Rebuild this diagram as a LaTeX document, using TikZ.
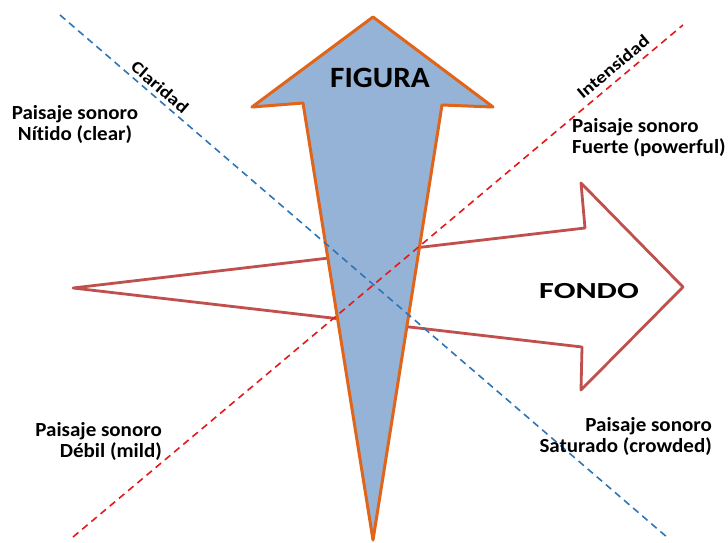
\documentclass[tikz,border=0pt]{standalone}
\usepackage{fontspec}
\setmainfont{Carlito}[Ligatures=NoCommon]
% Widened faces for the different text roles
\newfontfamily\quadfont{Carlito}[FakeStretch=1.05, Ligatures=NoCommon]
\newfontfamily\axisfont{Carlito}[FakeStretch=1.19, Ligatures=NoCommon]
\newfontfamily\figfont{Carlito}[FakeStretch=1.06, Ligatures=NoCommon]
\newfontfamily\fondofont{Carlito}[FakeStretch=1.4, Ligatures=NoCommon]
\definecolor{figfill}{HTML}{95B3D7}
\definecolor{figline}{HTML}{E0641A}
\definecolor{fondoline}{HTML}{C0504D}
\definecolor{clarline}{HTML}{2E75B6}
\definecolor{intline}{HTML}{E31A1C}
\tikzset{
  quadlabel/.style={font=\quadfont\bfseries\fontsize{20}{21}\selectfont, inner sep=0pt},
  axislabel/.style={font=\axisfont\bfseries\fontsize{17}{20}\selectfont, inner sep=0pt},
  guide/.style={line width=1.6pt, dash pattern=on 7pt off 5pt},
}
\begin{document}
\begin{tikzpicture}[x=1pt, y=-1pt]
\useasboundingbox (0,0) rectangle (728,543);

% FONDO: hollow horizontal arrow, drawn first so FIGURA covers it
\draw[fondoline, line width=2.8pt, line join=round]
  (73,288) -- (585,228) -- (581,183) -- (683,287) -- (581,390) -- (582,347) -- cycle;

% FIGURA: filled vertical arrow
\draw[figline, fill=figfill, line width=3pt, line join=round]
  (373,17) -- (493,107) -- (442,105) -- (373,540) -- (303,103) -- (252,107) -- cycle;

% Guide lines
\coordinate (clarA) at (60,15);
\coordinate (clarB) at (668,538);
\coordinate (intA) at (73,537);
\coordinate (intB) at (683,25);
\draw[guide, clarline] (clarA) -- (clarB);
\draw[guide, intline] (intA) -- (intB);

% Axis labels
\node[axislabel, rotate=-40.7] (clar) at (160,87) {Claridad};
\node[axislabel, rotate=40] (inten) at (613,67) {Intensidad};

% Arrow words
\node[font=\figfont\bfseries\fontsize{29.5}{32}\selectfont, inner sep=0pt] (figura) at (380,78) {FIGURA};
\node[font=\fondofont\bfseries\fontsize{23}{26}\selectfont, inner sep=0pt] (fondo) at (589,291) {FONDO};

% Quadrant labels
\node[quadlabel, align=center] (nitido) at (75,124) {Paisaje sonoro\\Nítido (clear)};
\node[quadlabel, align=left, anchor=west] (fuerte) at (572,138) {Paisaje sonoro\\Fuerte (powerful)};
\node[quadlabel, align=right, anchor=east] (debil) at (162,441) {Paisaje sonoro\\Débil (mild)};
\node[quadlabel, align=right, anchor=east] (saturado) at (712,436) {Paisaje sonoro\\Saturado (crowded)};
\end{tikzpicture}
\end{document}
